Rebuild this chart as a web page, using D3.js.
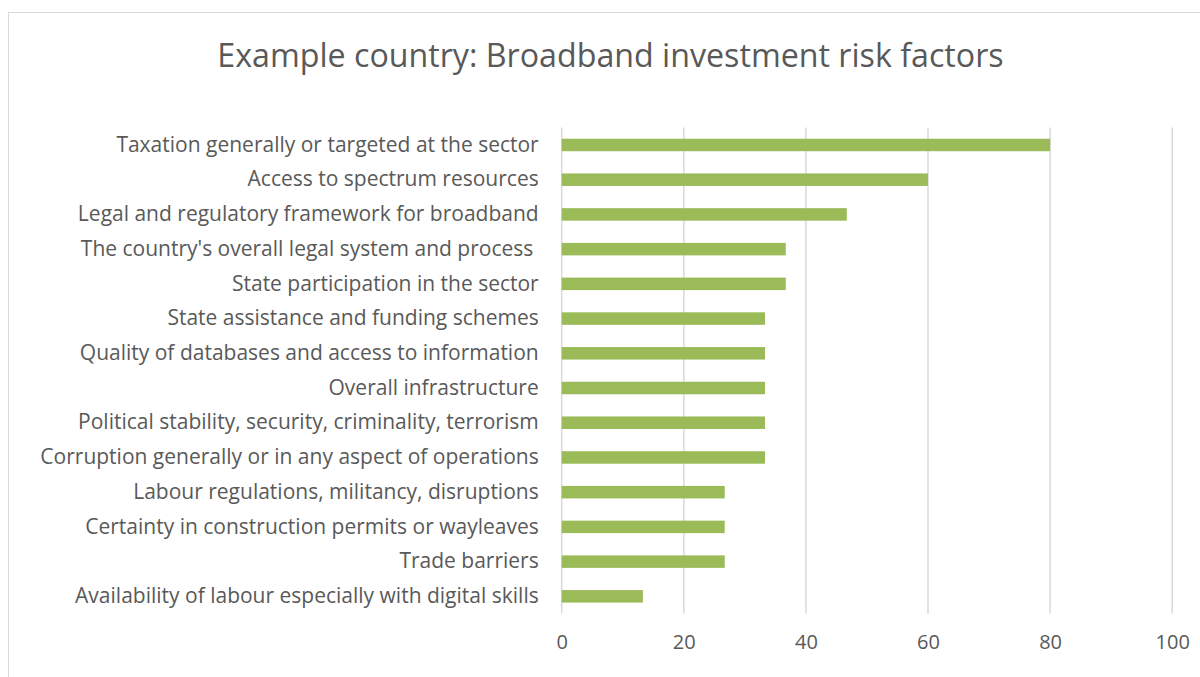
<!DOCTYPE html>
<html><head><meta charset="utf-8">
<script src="https://cdn.jsdelivr.net/npm/d3@7"></script>
<style>
html,body{margin:0;padding:0;background:#fff;}
svg{display:block;}
text{font-family:"Open Sans",sans-serif;fill:#595959;}
</style></head>
<body>
<svg id="chart" width="1200" height="677"></svg>
<script>
const categories = [
  "Taxation generally or targeted at the sector",
  "Access to spectrum resources",
  "Legal and regulatory framework for broadband",
  "The country's overall legal system and process ",
  "State participation in the sector",
  "State assistance and funding schemes",
  "Quality of databases and access to information",
  "Overall infrastructure",
  "Political stability, security, criminality, terrorism",
  "Corruption generally or in any aspect of operations",
  "Labour regulations, militancy, disruptions",
  "Certainty in construction permits or wayleaves",
  "Trade barriers",
  "Availability of labour especially with digital skills"
];
const values = [80, 60, 46.7, 36.7, 36.7, 33.3, 33.3, 33.3, 33.3, 33.3, 26.7, 26.7, 26.7, 13.3];
const xTicks = [0, 20, 40, 60, 80, 100];
const title = "Example country: Broadband investment risk factors";

(function(){
const svg = d3.select("#chart");
const pL = 561.7, pR = 1172.2, pT = 127.6, pB = 613.7;
const FONT = "'Open Sans',sans-serif";

svg.append("rect").attr("x", 8.5).attr("y", 12.5).attr("width", 1200).attr("height", 700)
  .attr("fill", "none").attr("stroke", "#d9d9d9").attr("stroke-width", 1);

const x = d3.scaleLinear().domain([0, 100]).range([pL, pR]);
const y = d3.scaleBand().domain(categories).range([pT, pB]).paddingInner(0.64).paddingOuter(0.32);

svg.append("g").selectAll("line").data(xTicks).join("line")
  .attr("x1", d => x(d)).attr("x2", d => x(d))
  .attr("y1", pT).attr("y2", pB)
  .attr("stroke", "#d9d9d9").attr("stroke-width", 1.5);

svg.append("g").selectAll("rect").data(values).join("rect")
  .attr("x", x(0)).attr("y", (d, i) => y(categories[i]))
  .attr("width", d => x(d) - x(0)).attr("height", y.bandwidth())
  .attr("fill", "#9bbb59");

const xAxis = d3.axisBottom(x).tickValues(xTicks).tickSize(0).tickPadding(0);
const gx = svg.append("g").attr("transform", `translate(0,${pB + 20})`).call(xAxis);
gx.select(".domain").remove();
gx.selectAll("text").attr("font-size", 20).attr("dy", "0.75em")
  .style("font-family", FONT).attr("fill", "#595959");

const yAxis = d3.axisLeft(y).tickSize(0).tickPadding(0);
const gy = svg.append("g").attr("transform", `translate(${pL - 23},0)`).call(yAxis);
gy.select(".domain").remove();
gy.selectAll("text").attr("font-size", 21).style("white-space", "pre")
  .style("font-family", FONT).attr("fill", "#595959");

svg.append("text").attr("x", 610.5).attr("y", 67).attr("text-anchor", "middle")
  .attr("font-size", 32.2).style("font-family", FONT).text(title);
})();
</script>
</body></html>
